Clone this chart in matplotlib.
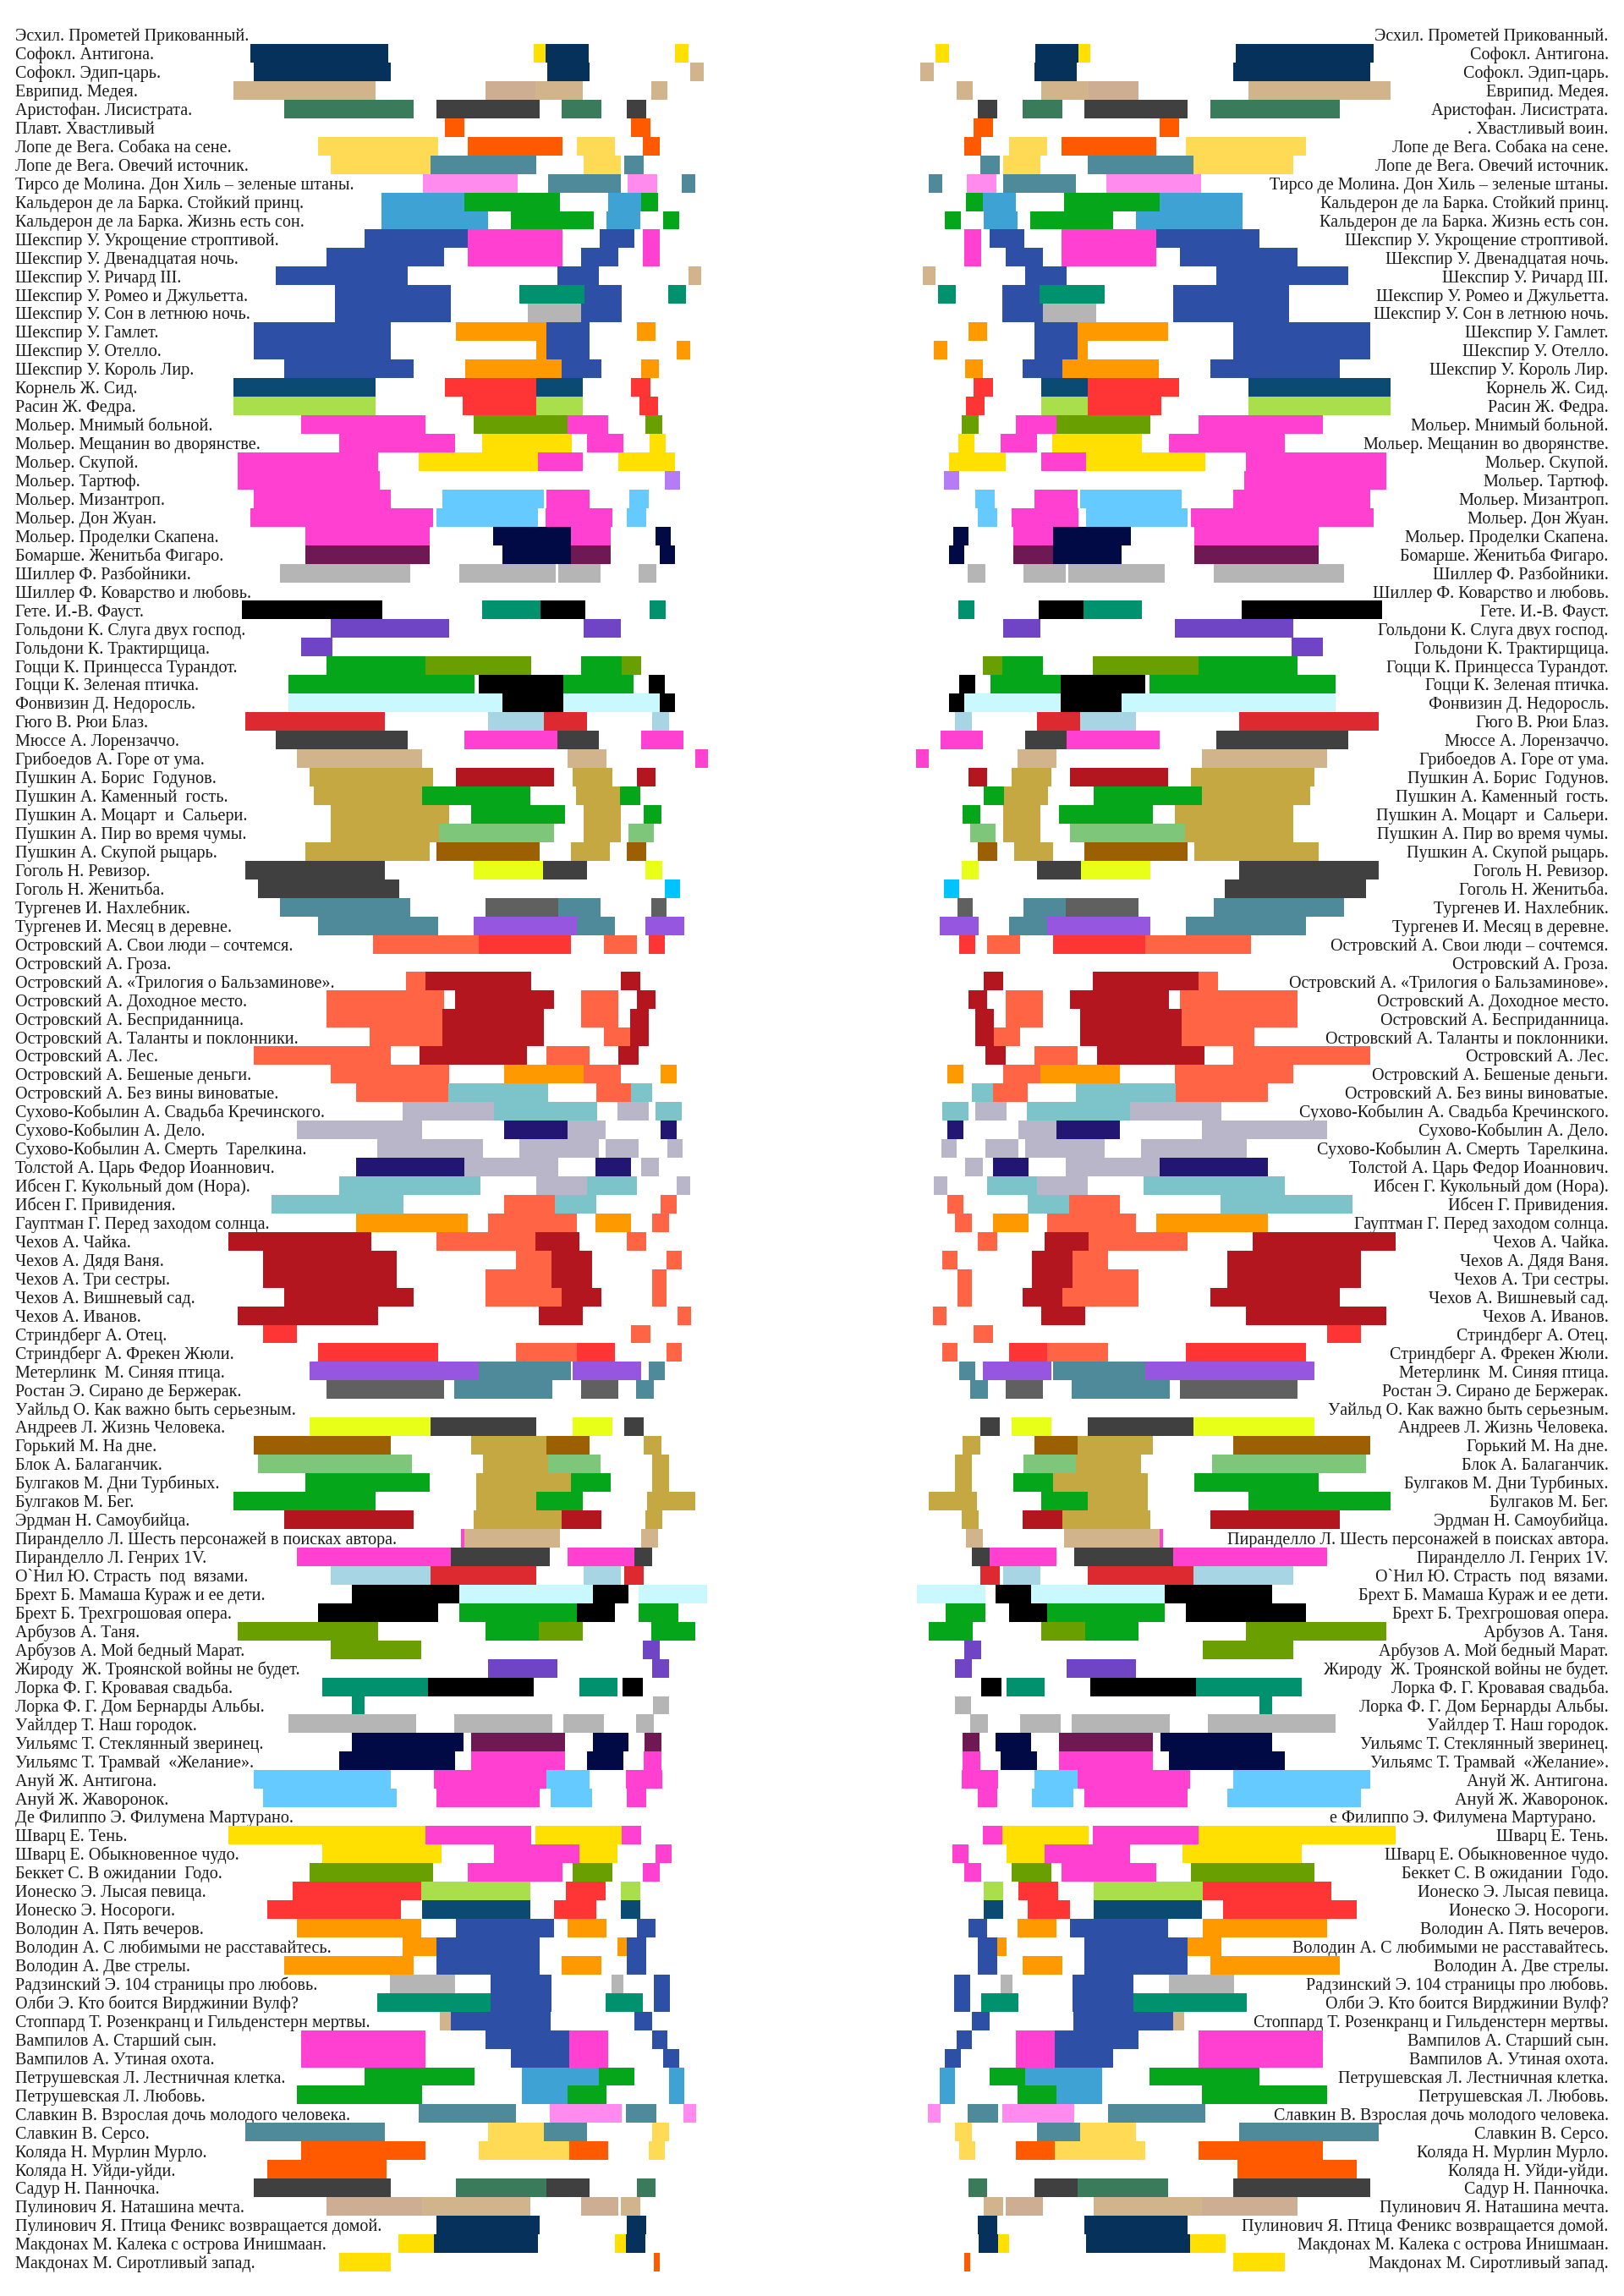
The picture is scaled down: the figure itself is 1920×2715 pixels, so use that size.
import matplotlib.pyplot as plt

# Названия спектаклей (сверху вниз)
plays = [
    "Эсхил. Прометей Прикованный.",
    "Софокл. Антигона.",
    "Софокл. Эдип-царь.",
    "Еврипид. Медея.",
    "Аристофан. Лисистрата.",
    "Плавт. Хвастливый воин.",
    "Лопе де Вега. Собака на сене.",
    "Лопе де Вега. Овечий источник.",
    "Тирсо де Молина. Дон Хиль – зеленые штаны.",
    "Кальдерон де ла Барка. Стойкий принц.",
    "Кальдерон де ла Барка. Жизнь есть сон.",
    "Шекспир У. Укрощение строптивой.",
    "Шекспир У. Двенадцатая ночь.",
    "Шекспир У. Ричард III.",
    "Шекспир У. Ромео и Джульетта.",
    "Шекспир У. Сон в летнюю ночь.",
    "Шекспир У. Гамлет.",
    "Шекспир У. Отелло.",
    "Шекспир У. Король Лир.",
    "Корнель Ж. Сид.",
    "Расин Ж. Федра.",
    "Мольер. Мнимый больной.",
    "Мольер. Мещанин во дворянстве.",
    "Мольер. Скупой.",
    "Мольер. Тартюф.",
    "Мольер. Мизантроп.",
    "Мольер. Дон Жуан.",
    "Мольер. Проделки Скапена.",
    "Бомарше. Женитьба Фигаро.",
    "Шиллер Ф. Разбойники.",
    "Шиллер Ф. Коварство и любовь.",
    "Гете. И.-В. Фауст.",
    "Гольдони К. Слуга двух господ.",
    "Гольдони К. Трактирщица.",
    "Гоцци К. Принцесса Турандот.",
    "Гоцци К. Зеленая птичка.",
    "Фонвизин Д. Недоросль.",
    "Гюго В. Рюи Блаз.",
    "Мюссе А. Лорензаччо.",
    "Грибоедов А. Горе от ума.",
    "Пушкин А. Борис  Годунов.",
    "Пушкин А. Каменный  гость.",
    "Пушкин А. Моцарт  и  Сальери.",
    "Пушкин А. Пир во время чумы.",
    "Пушкин А. Скупой рыцарь.",
    "Гоголь Н. Ревизор.",
    "Гоголь Н. Женитьба.",
    "Тургенев И. Нахлебник.",
    "Тургенев И. Месяц в деревне.",
    "Островский А. Свои люди – сочтемся.",
    "Островский А. Гроза.",
    "Островский А. «Трилогия о Бальзаминове».",
    "Островский А. Доходное место.",
    "Островский А. Бесприданница.",
    "Островский А. Таланты и поклонники.",
    "Островский А. Лес.",
    "Островский А. Бешеные деньги.",
    "Островский А. Без вины виноватые.",
    "Сухово-Кобылин А. Свадьба Кречинского.",
    "Сухово-Кобылин А. Дело.",
    "Сухово-Кобылин А. Смерть  Тарелкина.",
    "Толстой А. Царь Федор Иоаннович.",
    "Ибсен Г. Кукольный дом (Нора).",
    "Ибсен Г. Привидения.",
    "Гауптман Г. Перед заходом солнца.",
    "Чехов А. Чайка.",
    "Чехов А. Дядя Ваня.",
    "Чехов А. Три сестры.",
    "Чехов А. Вишневый сад.",
    "Чехов А. Иванов.",
    "Стриндберг А. Отец.",
    "Стриндберг А. Фрекен Жюли.",
    "Метерлинк  М. Синяя птица.",
    "Ростан Э. Сирано де Бержерак.",
    "Уайльд О. Как важно быть серьезным.",
    "Андреев Л. Жизнь Человека.",
    "Горький М. На дне.",
    "Блок А. Балаганчик.",
    "Булгаков М. Дни Турбиных.",
    "Булгаков М. Бег.",
    "Эрдман Н. Самоубийца.",
    "Пиранделло Л. Шесть персонажей в поисках автора.",
    "Пиранделло Л. Генрих 1V.",
    "О`Нил Ю. Страсть  под  вязами.",
    "Брехт Б. Мамаша Кураж и ее дети.",
    "Брехт Б. Трехгрошовая опера.",
    "Арбузов А. Таня.",
    "Арбузов А. Мой бедный Марат.",
    "Жироду  Ж. Троянской войны не будет.",
    "Лорка Ф. Г. Кровавая свадьба.",
    "Лорка Ф. Г. Дом Бернарды Альбы.",
    "Уайлдер Т. Наш городок.",
    "Уильямс Т. Стеклянный зверинец.",
    "Уильямс Т. Трамвай  «Желание».",
    "Ануй Ж. Антигона.",
    "Ануй Ж. Жаворонок.",
    "Де Филиппо Э. Филумена Мартурано.",
    "Шварц Е. Тень.",
    "Шварц Е. Обыкновенное чудо.",
    "Беккет С. В ожидании  Годо.",
    "Ионеско Э. Лысая певица.",
    "Ионеско Э. Носороги.",
    "Володин А. Пять вечеров.",
    "Володин А. С любимыми не расставайтесь.",
    "Володин А. Две стрелы.",
    "Радзинский Э. 104 страницы про любовь.",
    "Олби Э. Кто боится Вирджинии Вулф?",
    "Стоппард Т. Розенкранц и Гильденстерн мертвы.",
    "Вампилов А. Старший сын.",
    "Вампилов А. Утиная охота.",
    "Петрушевская Л. Лестничная клетка.",
    "Петрушевская Л. Любовь.",
    "Славкин В. Взрослая дочь молодого человека.",
    "Славкин В. Серсо.",
    "Коляда Н. Мурлин Мурло.",
    "Коляда Н. Уйди-уйди.",
    "Садур Н. Панночка.",
    "Пулинович Я. Наташина мечта.",
    "Пулинович Я. Птица Феникс возвращается домой.",
    "Макдонах М. Калека с острова Инишмаан.",
    "Макдонах М. Сиротливый запад.",
]

# подписи, обрезанные в исходной картинке
left_text = {5: "Плавт. Хвастливый"}
right_text = {5: ". Хвастливый воин.", 96: "е Филиппо Э. Филумена Мартурано."}

palette = {
    "nv": "#05315a", "ye": "#ffe000", "ta": "#d2b48c", "ta2": "#cdae92",
    "gt": "#3a7b5b", "dg": "#404040", "or": "#ff5a00", "ly": "#ffdb55",
    "st": "#4f8a9b", "pl": "#ff8bef", "sk": "#3fa2d4", "gr": "#05a61a",
    "bl": "#2e4fa6", "mg": "#ff40d0", "tg": "#00926f", "lg": "#b5b5b5",
    "og": "#ff9900", "dt": "#0a4a73", "rd": "#ff3535", "li": "#a9df4a",
    "ol": "#6a9f00", "vi": "#b67cf6", "lb": "#64caff", "dn": "#020a46",
    "pb": "#6e1954", "bk": "#000000", "pu": "#7045c5", "lc": "#c9f8ff",
    "rh": "#dc2a30", "pb2": "#a8d5e4", "kh": "#c6a842", "dr": "#b3161f",
    "lgr": "#7ec67a", "br": "#9c6003", "yl": "#e8ff18", "cy": "#00c4ff",
    "gy": "#606060", "pv": "#9656e0", "co": "#ff6444", "ct": "#7cc4ca",
    "lv": "#b8b6c8", "in": "#231672",
}

# отрезки по каждой строке: (начало, конец, цвет)
spans = [
    [],
    [(533, 827, "nv"), (1137, 1162, "ye"), (1162, 1254, "nv"), (1438, 1467, "ye")],
    [(541, 833, "nv"), (1166, 1257, "nv"), (1471, 1499, "ta")],
    [(497, 801, "ta"), (1034, 1140, "ta2"), (1140, 1241, "ta"), (1387, 1422, "ta")],
    [(605, 881, "gt"), (930, 1150, "dg"), (1196, 1282, "gt"), (1336, 1377, "dg")],
    [(948, 990, "or"), (1345, 1386, "or")],
    [(677, 934, "ly"), (997, 1198, "or"), (1230, 1311, "ly"), (1369, 1406, "or")],
    [(704, 918, "ly"), (918, 1142, "st"), (1243, 1323, "ly"), (1330, 1372, "st")],
    [(902, 1103, "pl"), (1167, 1323, "st"), (1337, 1400, "pl"), (1453, 1482, "st")],
    [(812, 990, "sk"), (990, 1193, "gr"), (1295, 1366, "sk"), (1366, 1403, "gr")],
    [(812, 1040, "sk"), (1088, 1265, "gr"), (1293, 1365, "sk"), (1413, 1447, "gr")],
    [(777, 997, "bl"), (997, 1198, "mg"), (1278, 1352, "bl"), (1370, 1406, "mg")],
    [(695, 947, "bl"), (997, 1198, "mg"), (1238, 1317, "bl"), (1370, 1406, "mg")],
    [(587, 868, "bl"), (1188, 1276, "bl"), (1467, 1495, "ta")],
    [(713, 961, "bl"), (1106, 1246, "tg"), (1246, 1325, "bl"), (1423, 1462, "tg")],
    [(713, 961, "bl"), (1125, 1238, "lg"), (1238, 1325, "bl")],
    [(541, 832, "bl"), (972, 1164, "og"), (1164, 1257, "bl"), (1357, 1396, "og")],
    [(541, 832, "bl"), (1143, 1164, "og"), (1164, 1257, "bl"), (1441, 1471, "og")],
    [(605, 881, "bl"), (991, 1196, "og"), (1196, 1282, "bl"), (1366, 1404, "og")],
    [(497, 801, "dt"), (948, 1143, "rd"), (1143, 1241, "dt"), (1345, 1386, "rd")],
    [(497, 801, "li"), (985, 1143, "rd"), (1143, 1241, "li"), (1363, 1403, "rd")],
    [(641, 907, "mg"), (1009, 1210, "ol"), (1210, 1296, "mg"), (1375, 1412, "ol")],
    [(723, 969, "mg"), (1027, 1219, "ye"), (1251, 1329, "mg"), (1384, 1419, "ye")],
    [(506, 805, "mg"), (893, 1147, "ye"), (1147, 1242, "mg"), (1318, 1438, "ye")],
    [(506, 810, "mg"), (1417, 1449, "vi")],
    [(541, 832, "mg"), (942, 1158, "lb"), (1165, 1257, "mg"), (1341, 1382, "lb")],
    [(533, 922, "mg"), (930, 1146, "lb"), (1162, 1305, "mg"), (1336, 1377, "lb")],
    [(650, 916, "mg"), (1051, 1217, "dn"), (1217, 1301, "mg"), (1396, 1430, "dn")],
    [(650, 916, "pb"), (1070, 1217, "dn"), (1217, 1301, "pb"), (1405, 1438, "dn")],
    [(596, 874, "lg"), (979, 1184, "lg"), (1190, 1279, "lg"), (1360, 1398, "lg")],
    [],
    [(515, 814, "bk"), (1027, 1152, "tg"), (1152, 1247, "bk"), (1384, 1419, "tg")],
    [(704, 957, "pu"), (1243, 1322, "pu")],
    [(641, 708, "pu")],
    [(695, 907, "gr"), (907, 1132, "ol"), (1238, 1324, "gr"), (1324, 1366, "ol")],
    [(614, 1011, "gr"), (1021, 1200, "bk"), (1200, 1350, "gr"), (1382, 1417, "bk")],
    [(614, 1070, "lc"), (1070, 1200, "bk"), (1200, 1405, "lc"), (1405, 1438, "bk")],
    [(523, 820, "rh"), (1040, 1158, "pb2"), (1158, 1250, "rh"), (1390, 1425, "pb2")],
    [(587, 868, "dg"), (990, 1188, "mg"), (1188, 1276, "dg"), (1366, 1457, "mg")],
    [(632, 900, "ta"), (1209, 1292, "ta"), (1482, 1508, "mg")],
    [(659, 922, "kh"), (972, 1181, "dr"), (1221, 1304, "kh"), (1357, 1396, "dr")],
    [(668, 900, "kh"), (900, 1130, "gr"), (1227, 1321, "kh"), (1321, 1364, "gr")],
    [(704, 957, "kh"), (1003, 1204, "gr"), (1243, 1323, "kh"), (1371, 1410, "gr")],
    [(704, 935, "kh"), (935, 1180, "lgr"), (1243, 1323, "kh"), (1339, 1394, "lgr")],
    [(650, 916, "kh"), (930, 1150, "br"), (1217, 1300, "kh"), (1336, 1377, "br")],
    [(523, 820, "dg"), (1009, 1157, "yl"), (1157, 1250, "dg"), (1375, 1412, "yl")],
    [(550, 850, "dg"), (1417, 1449, "cy")],
    [(596, 874, "st"), (1034, 1190, "gy"), (1190, 1279, "st"), (1387, 1421, "gy")],
    [(677, 934, "st"), (1009, 1230, "pv"), (1230, 1310, "st"), (1375, 1458, "pv")],
    [(794, 1020, "co"), (1020, 1216, "rd"), (1286, 1357, "co"), (1382, 1416, "rd")],
    [],
    [(866, 907, "co"), (907, 1131, "dr"), (1322, 1365, "dr")],
    [(695, 947, "co"), (970, 1181, "dr"), (1238, 1318, "co"), (1357, 1396, "dr")],
    [(695, 943, "co"), (943, 1158, "dr"), (1238, 1318, "co"), (1343, 1382, "dr")],
    [(787, 943, "co"), (943, 1158, "dr"), (1286, 1343, "co"), (1343, 1382, "dr")],
    [(541, 832, "co"), (894, 1123, "dr"), (1165, 1257, "co"), (1318, 1360, "dr")],
    [(704, 957, "co"), (1075, 1243, "og"), (1243, 1323, "co"), (1408, 1442, "og")],
    [(758, 955, "co"), (955, 1168, "ct"), (1270, 1345, "co"), (1345, 1389, "ct")],
    [(857, 1052, "lv"), (1052, 1272, "ct"), (1316, 1382, "lv"), (1396, 1452, "ct")],
    [(632, 900, "lv"), (1075, 1209, "in"), (1209, 1291, "lv"), (1408, 1442, "in")],
    [(803, 1030, "lv"), (1107, 1276, "lv"), (1290, 1360, "lv"), (1422, 1455, "lv")],
    [(758, 990, "in"), (990, 1190, "lv"), (1268, 1345, "in"), (1366, 1404, "lv")],
    [(722, 1023, "ct"), (1143, 1250, "lv"), (1250, 1357, "ct"), (1441, 1471, "lv")],
    [(578, 860, "ct"), (1075, 1183, "co"), (1183, 1271, "ct"), (1408, 1442, "co")],
    [(758, 997, "og"), (1040, 1230, "co"), (1268, 1345, "og"), (1390, 1426, "co")],
    [(487, 792, "dr"), (930, 1140, "co"), (1140, 1235, "dr"), (1336, 1377, "co")],
    [(560, 845, "dr"), (1100, 1175, "co"), (1175, 1262, "dr"), (1420, 1452, "co")],
    [(560, 845, "dr"), (1034, 1175, "co"), (1175, 1262, "dr"), (1389, 1420, "co")],
    [(605, 881, "dr"), (1034, 1196, "co"), (1196, 1282, "dr"), (1389, 1420, "co")],
    [(506, 805, "dr"), (1148, 1242, "dr"), (1443, 1472, "co")],
    [(560, 632, "rd"), (1345, 1386, "co")],
    [(677, 934, "rd"), (1100, 1230, "co"), (1230, 1310, "rd"), (1420, 1452, "co")],
    [(659, 1020, "pv"), (1020, 1216, "st"), (1221, 1366, "pv"), (1382, 1417, "st")],
    [(695, 947, "gy"), (967, 1177, "st"), (1238, 1317, "gy"), (1355, 1393, "st")],
    [],
    [(659, 917, "yl"), (917, 1142, "dg"), (1221, 1305, "yl"), (1330, 1372, "dg")],
    [(541, 832, "br"), (1003, 1165, "kh"), (1165, 1257, "br"), (1372, 1410, "kh")],
    [(550, 878, "lgr"), (1030, 1168, "kh"), (1168, 1280, "lgr"), (1390, 1425, "kh")],
    [(650, 916, "gr"), (1015, 1216, "kh"), (1216, 1301, "gr"), (1390, 1425, "kh")],
    [(497, 801, "gr"), (1015, 1143, "kh"), (1143, 1241, "gr"), (1378, 1482, "kh")],
    [(605, 881, "dr"), (1009, 1196, "kh"), (1196, 1282, "dr"), (1375, 1412, "kh")],
    [(983, 990, "mg"), (990, 1193, "ta"), (1366, 1403, "ta")],
    [(632, 961, "mg"), (961, 1172, "dg"), (1209, 1351, "mg"), (1351, 1390, "dg")],
    [(704, 917, "pb2"), (917, 1142, "rh"), (1243, 1323, "pb2"), (1330, 1372, "rh")],
    [(749, 979, "bk"), (979, 1264, "lc"), (1264, 1339, "bk"), (1360, 1507, "lc")],
    [(677, 934, "bk"), (979, 1229, "gr"), (1229, 1310, "bk"), (1360, 1446, "gr")],
    [(506, 805, "ol"), (1034, 1148, "gr"), (1148, 1242, "ol"), (1387, 1482, "gr")],
    [(704, 897, "ol"), (1369, 1405, "pu")],
    [(1040, 1187, "pu"), (1390, 1425, "pu")],
    [(686, 912, "tg"), (912, 1138, "bk"), (1235, 1315, "tg"), (1327, 1369, "bk")],
    [(749, 776, "tg"), (1392, 1426, "lg")],
    [(614, 887, "lg"), (967, 1177, "lg"), (1200, 1286, "lg"), (1355, 1393, "lg")],
    [(749, 988, "dn"), (1003, 1204, "pb"), (1264, 1339, "dn"), (1373, 1410, "pb")],
    [(722, 969, "dn"), (1003, 1204, "mg"), (1251, 1329, "dn"), (1372, 1410, "mg")],
    [(541, 832, "lb"), (925, 1165, "mg"), (1165, 1257, "lb"), (1334, 1412, "mg")],
    [(560, 845, "lb"), (930, 1150, "mg"), (1173, 1262, "lb"), (1336, 1377, "mg")],
    [],
    [(487, 907, "ye"), (907, 1132, "mg"), (1140, 1324, "ye"), (1324, 1366, "mg")],
    [(686, 941, "ye"), (1052, 1234, "mg"), (1234, 1315, "ye"), (1396, 1431, "mg")],
    [(659, 922, "ol"), (997, 1198, "mg"), (1221, 1305, "ol"), (1369, 1406, "mg")],
    [(623, 898, "rd"), (898, 1130, "li"), (1205, 1291, "rd"), (1322, 1364, "li")],
    [(569, 855, "rd"), (900, 1130, "dt"), (1180, 1270, "rd"), (1322, 1364, "dt")],
    [(632, 898, "og"), (972, 1181, "bl"), (1209, 1292, "og"), (1357, 1396, "bl")],
    [(857, 930, "og"), (930, 1150, "bl"), (1316, 1336, "og"), (1336, 1377, "bl")],
    [(605, 881, "og"), (930, 1150, "bl"), (1196, 1282, "og"), (1336, 1377, "bl")],
    [(830, 970, "lg"), (1046, 1175, "bl"), (1303, 1329, "lg"), (1393, 1427, "bl")],
    [(803, 1046, "tg"), (1046, 1175, "bl"), (1290, 1370, "tg"), (1393, 1427, "bl")],
    [(938, 961, "ta"), (961, 1173, "bl"), (1352, 1390, "bl")],
    [(641, 907, "mg"), (1034, 1213, "bl"), (1213, 1296, "mg"), (1390, 1422, "bl")],
    [(641, 907, "mg"), (1088, 1213, "bl"), (1213, 1296, "mg"), (1413, 1447, "bl")],
    [(776, 1011, "gr"), (1112, 1276, "sk"), (1276, 1351, "gr"), (1426, 1458, "sk")],
    [(632, 900, "gr"), (1112, 1209, "sk"), (1209, 1292, "gr"), (1426, 1458, "sk")],
    [(893, 1100, "st"), (1172, 1325, "pl"), (1333, 1398, "st"), (1456, 1483, "pl")],
    [(523, 820, "st"), (1040, 1158, "ly"), (1158, 1250, "st"), (1390, 1425, "ly")],
    [(641, 907, "or"), (1021, 1213, "ly"), (1213, 1296, "or"), (1382, 1417, "ly")],
    [(569, 824, "or")],
    [(541, 832, "dg"), (972, 1165, "gt"), (1165, 1257, "dg"), (1357, 1396, "gt")],
    [(695, 900, "ta2"), (900, 1130, "ta"), (1238, 1318, "ta2"), (1322, 1364, "ta")],
    [(930, 1150, "nv"), (1336, 1377, "nv")],
    [(848, 925, "ye"), (925, 1146, "nv"), (1311, 1334, "ye"), (1334, 1375, "nv")],
    [(722, 832, "ye"), (1393, 1406, "or")],
]

plt.rcParams["font.family"] = ["Liberation Serif", "DejaVu Serif"]

W, H = 1920, 2715
fig = plt.figure(figsize=(W / 100, H / 100), dpi=100)
fig.patch.set_facecolor("white")

n = len(plays)
bottom = (H - 2686) / H
height = (2686 - 30) / H
half = 870 / W

ax_l = fig.add_axes([0, bottom, half, height])
ax_r = fig.add_axes([1 - half, bottom, half, height])

ys, lefts, widths, cols = [], [], [], []
for i, row in enumerate(spans):
    for s, e, c in row:
        ys.append(i + 1)
        lefts.append(s)
        widths.append(e - s)
        cols.append(palette[c])

for ax, mirrored in [(ax_l, False), (ax_r, True)]:
    ax.barh(ys, widths, left=lefts, height=1.0, color=cols,
            linewidth=0, antialiased=False, zorder=2)
    if mirrored:
        ax.set_xlim(1568, 0)
    else:
        ax.set_xlim(0, 1568)
    ax.set_ylim(n + 0.5, 0.5)
    ax.axis("off")

    for i, name in enumerate(plays):
        if mirrored:
            txt = right_text.get(i, name)
            x = 60 if i == 96 else 33
            ax.text(x, i + 1.33, txt, ha="right", va="baseline",
                    fontsize=14.5, color="#1a1a1a", zorder=1)
        else:
            txt = left_text.get(i, name)
            ax.text(33, i + 1.33, txt, ha="left", va="baseline",
                    fontsize=14.5, color="#1a1a1a", zorder=1)

fig.savefig("out.png", dpi=100, facecolor="white")
